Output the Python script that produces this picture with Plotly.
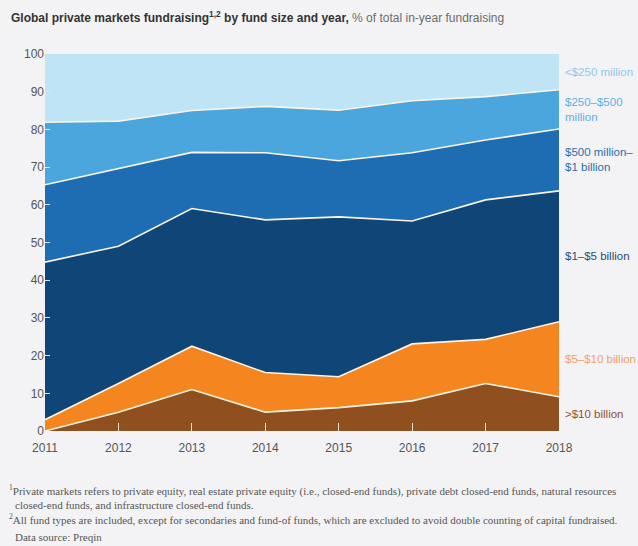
import plotly.graph_objects as go

# Fundraising share by fund size, % of total in-year fundraising
years = [2011, 2012, 2013, 2014, 2015, 2016, 2017, 2018]
over_10b = [0.0, 5.0, 11.0, 5.0, 6.2, 8.0, 12.6, 9.1]
b5_10 = [3.0, 7.6, 11.5, 10.5, 8.2, 15.1, 11.7, 19.9]
b1_5 = [41.8, 36.4, 36.5, 40.5, 42.4, 32.6, 37.0, 34.7]
m500_1b = [20.5, 20.7, 14.9, 17.8, 14.9, 18.1, 15.9, 16.4]
m250_500 = [16.6, 12.5, 11.1, 12.3, 13.4, 13.8, 11.5, 10.4]
under_250m = [18.1, 17.8, 15.0, 13.9, 14.9, 12.4, 11.3, 9.5]

series_names = [">$10 billion", "$5–$10 billion", "$1–$5 billion",
                "$500 million–<br>$1 billion", "$250–$500<br>million", "<$250 million"]
series_values = [over_10b, b5_10, b1_5, m500_1b, m250_500, under_250m]
fill_colors = ["#8f4f1f", "#f5851f", "#0f4577", "#1e6cb2", "#4aa6dc", "#bee4f6"]
label_colors = ["#93512c", "#f1a066", "#2b4b72", "#2a6eae", "#5cafe0", "#8fc7e8"]

y_ticks = [0, 10, 20, 30, 40, 50, 60, 70, 80, 90, 100]

W, H = 638, 546
ML, MR, MT, MB = 45, 79, 54, 115
PW, PH = W - ML - MR, H - MT - MB

BG = "#f3f3f5"
SANS = "Liberation Sans, Arial, sans-serif"
SERIF = "Liberation Serif, Times New Roman, DejaVu Serif, serif"


def px_x(px):
    return (px - ML) / PW


def px_y(py):
    return (H - MB - py) / PH


fig = go.Figure()
for i, (name, vals, col) in enumerate(zip(series_names, series_values, fill_colors)):
    top = i == len(series_names) - 1
    fig.add_trace(go.Scatter(
        x=years, y=vals, name=name, mode="lines", stackgroup="one",
        fillcolor=col,
        line=dict(color="#fbf4e6", width=0 if top else 1.6),
        hoverinfo="skip",
    ))

# Right-hand labels centred on each band at the last year
annotations = []
cum = 0.0
for name, vals, col in zip(series_names, series_values, label_colors):
    mid = cum + vals[-1] / 2
    cum += vals[-1]
    annotations.append(dict(
        x=years[-1], y=mid, xref="x", yref="y", text=name, showarrow=False,
        xanchor="left", yanchor="middle", xshift=4, align="left",
        font=dict(family=SANS, size=11.5, color=col),
    ))

# Title
annotations.append(dict(
    x=px_x(9), y=px_y(17), xref="paper", yref="paper", xanchor="left", yanchor="middle",
    showarrow=False, align="left",
    text="<b>Global private markets fundraising<sup>1,2</sup> by fund size and year,</b>"
         " <span style='color:#6b6b6b'>% of total in-year fundraising</span>",
    font=dict(family=SANS, size=12, color="#333333"),
))

# Footnotes
notes = [
    (7, 490, "<sup>1</sup>Private markets refers to private equity, real estate private equity (i.e., closed-end funds), private debt closed-end funds, natural resources"),
    (13, 505, "closed-end funds, and infrastructure closed-end funds."),
    (7, 519, "<sup>2</sup>All fund types are included, except for secondaries and fund-of funds, which are excluded to avoid double counting of capital fundraised."),
    (13, 537, "Data source: Preqin"),
]
for x0, y0, t in notes:
    annotations.append(dict(
        x=px_x(x0), y=px_y(y0), xref="paper", yref="paper", xanchor="left", yanchor="middle",
        showarrow=False, align="left", text=t,
        font=dict(family=SERIF, size=11, color="#555555"),
    ))

fig.update_layout(
    width=W, height=H,
    margin=dict(l=ML, r=MR, t=MT, b=MB, autoexpand=False),
    paper_bgcolor=BG, plot_bgcolor=BG,
    showlegend=False,
    annotations=annotations,
    xaxis=dict(
        range=[years[0], years[-1]], tickmode="array", tickvals=years,
        ticktext=[str(y) for y in years],
        showgrid=False, zeroline=False, showline=False,
        ticks="inside", ticklen=8, tickwidth=1, tickcolor="#e9e3d6",
        ticklabelstandoff=8,
        tickfont=dict(family=SANS, size=12, color="#555555"),
        fixedrange=True,
    ),
    yaxis=dict(
        range=[0, 100], tickmode="array", tickvals=y_ticks,
        showgrid=False, zeroline=False, showline=False,
        ticks="inside", ticklen=5, tickwidth=1, tickcolor="#d7e9f5",
        tickfont=dict(family=SANS, size=12, color="#555555"),
        fixedrange=True,
    ),
)

fig.write_html("out.html")
